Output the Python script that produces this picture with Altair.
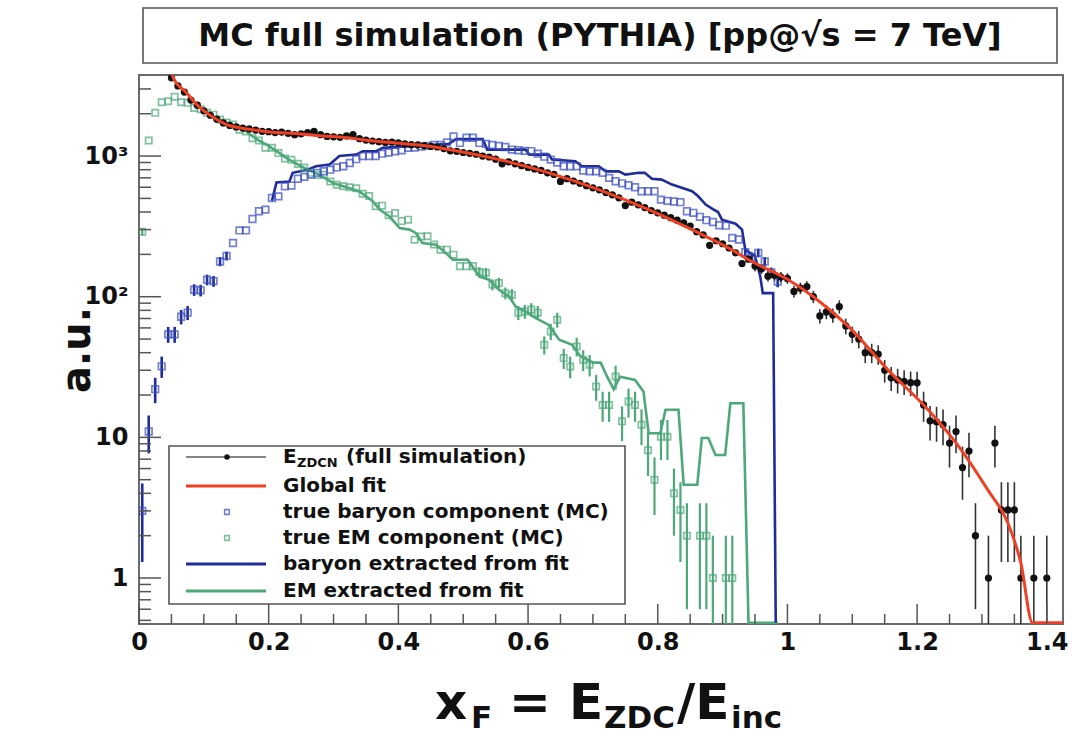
import altair as alt
import numpy as np
import pandas as pd

FONT = "DejaVu Sans"
RED = "#EE4124"
BLUE_LINE = "#1F2D9B"
BLUE_SQ = "#3A4CC0"
GREEN = "#4DA87A"
BLACK = "#111111"
FRAME = "#6a6a6a"

# ---------------- data ----------------
# E_ZDCN full simulation (black points), bin centres 0.05 ... 1.40
black_x = [round(0.05 + 0.01 * i, 2) for i in range(136)]
black_v = [3600, 3150, 2850, 2500, 2300, 2100, 1950, 1830, 1720, 1650,
           1610, 1580, 1560, 1530, 1500, 1490, 1470, 1480, 1450, 1420,
           1440, 1470, 1500, 1420, 1380, 1370, 1360, 1390, 1420, 1330,
           1300, 1280, 1265, 1250, 1255, 1240, 1220, 1205, 1200, 1185,
           1170, 1160, 1130, 1090, 1080, 1060, 1045, 1030, 1000, 985,
           950, 880, 910, 880, 855, 830, 810, 790, 760, 740,
           660, 690, 665, 640, 615, 595, 575, 550, 530, 505,
           445, 470, 450, 430, 410, 395, 380, 365, 350, 335,
           318, 290, 275, 232, 250, 238, 222, 205, 172, 185,
           165, 158, 140, 142, 138, 135, 109, 115, 118, 100,
           73, 78, 74, 85, 62, 54, 50, 40, 40, 39,
           30, 26.5, 25.6, 25, 24.5, 24.4, 17, 13.1, 12.9, 12.3,
           9.1, 11, 6.1, 8, 2.0, None, 1.0, 9.1, 3.05, 3.05,
           3.05, 1.0, None, 1.0, None, 1.0]
black_err = [0] * 90 + [13, 12.6, 11.8, 11.9, 11.7, 11.6, 10.4, 10.7, 10.9, 10,
                        8.5, 8.8, 8.6, 9.2, 7.9, 7.3, 7.1, 6.3, 6.3, 6.2,
                        5.5, 5.1, 5.1, 5, 4.9, 4.9, 4.1, 3.6, 3.6, 3.5,
                        3.0, 3.3, 2.5, 2.8, 1.4, 0, 1.0, 3.0, 1.75, 1.75,
                        1.75, 1.0, 0, 1.0, 0, 1.0]

# true baryon component (MC), bin centres 0.005 ... 0.985
blue_x = [round(0.005 + 0.01 * i, 3) for i in range(99)]
blue_v = [3.0, 11, 22, 32, 54, 54, 72, 77, 112, 111,
          132, 129, 178, 195, 241, 296, 296, 357, 405, 416,
          503, 517, 610, 617, 690, 711, 739, 760, 780, 800,
          830, 846, 893, 950, 1000, 1000, 1000, 1040, 1060, 1080,
          1100, 1145, 1150, 1170, 1180, 1200, 1200, 1250, 1380, 1240,
          1350, 1350, 1240, 1220, 1200, 1180, 1160, 1112, 1100, 1090,
          1085, 1040, 990, 944, 900, 846, 846, 846, 790, 778,
          778, 760, 700, 662, 640, 620, 600, 562, 562, 562,
          490, 480, 475, 470, 405, 395, 370, 350, 340, 322,
          320, 262, 255, 207, 192, 205, 178, 149, 128]
blue_err = [1.7, 3.3, 4.5, 5.5, 7, 7, 8.5, 8.8, 10.6, 10.5, 11.5, 11.4, 13.3, 14] \
    + [0] * 79 + [14.4, 13.9, 14.3, 13.3, 12.2, 11.3]

# true EM component (MC), bin centres 0.005 ... 0.915
green_x = [round(0.005 + 0.01 * i, 3) for i in range(92)]
green_v = [290, 1290, 2030, 2415, 2455, 2640, 2415, 2390, 2200, 2150,
           2030, 1970, 1820, 1730, 1675, 1540, 1495, 1340, 1290, 1145,
           1145, 1050, 960, 940, 880, 830, 760, 735, 735, 660,
           625, 610, 600, 590, 540, 520, 440, 444, 380, 394,
           345, 353, 254, 268, 269, 235, 216, 216, 199, 165,
           165, 165, 150, 148, 122, 125, 106, 103, 77, 78.5,
           81, 77, 45.5, 56.6, 68.6, 36.6, 31.9, 44.3, 35.6, 32.8,
           23, 17, 17, 27.1, 13, 18, 17, 12.3, 8.1, 5.0,
           10.1, 10.1, 4.0, 3.05, 2.0, None, 2.0, 2.0, 1.0, None,
           1.0, 1.0]
green_err = [17] + [0] * 51 + [12.2, 12.2, 11, 11.2, 10.3, 10.1, 8.8, 8.9, 9, 8.8,
                               6.7, 7.5, 8.3, 6, 5.6, 6.7, 6, 5.7, 4.8, 4.1,
                               4.1, 5.2, 3.6, 4.2, 4.1, 3.5, 2.8, 2.2, 3.2, 3.2,
                               2.0, 1.75, 1.4, 0, 1.4, 1.4, 1.0, 0, 1.0, 1.0]

# global fit (red curve)
fit_x = [0.05, 0.053, 0.0733, 0.0887, 0.104, 0.12, 0.135, 0.155, 0.181, 0.207,
         0.243, 0.273, 0.304, 0.335, 0.366, 0.396, 0.448, 0.478, 0.555, 0.632,
         0.709, 0.786, 0.863, 0.914, 0.94, 1.0, 1.04, 1.094, 1.155, 1.217,
         1.268, 1.309, 1.34, 1.36, 1.378, 1.425]
fit_v = [3900, 3600, 2820, 2330, 2030, 1820, 1675, 1590, 1527, 1478,
         1446, 1400, 1370, 1325, 1274, 1240, 1175, 1112, 944, 760,
         578, 416, 284, 216, 183, 133, 100, 61.5, 30.2, 15.7,
         8.15, 4.23, 2.46, 1.28, 0.48, 0.48]

# baryon extracted from fit (blue histogram line)
bl_x = [0.205, 0.212, 0.232, 0.237, 0.26, 0.273, 0.294, 0.309, 0.335, 0.345,
        0.366, 0.376, 0.448, 0.478, 0.489, 0.53, 0.537, 0.596, 0.602, 0.632,
        0.637, 0.673, 0.683, 0.709, 0.72, 0.74, 0.75, 0.771, 0.78, 0.791,
        0.806, 0.822, 0.853, 0.862, 0.874, 0.885, 0.893, 0.899, 0.92, 0.93,
        0.935, 0.95, 0.958, 0.962, 0.978, 0.982]
bl_v = [480, 650, 660, 760, 800, 846, 870, 1000, 1025, 1082,
        1082, 1143, 1200, 1222, 1320, 1320, 1112, 1112, 1024, 1024,
        944, 918, 846, 846, 778, 778, 738, 760, 760, 690,
        680, 627, 562, 520, 452, 420, 400, 353, 330, 300,
        216, 194, 140, 106, 106, 0.48]

# EM extracted from fit (green histogram line)
gl_x = [0.085, 0.10, 0.12, 0.14, 0.165, 0.18, 0.20, 0.23, 0.26, 0.28,
        0.30, 0.32, 0.34, 0.36, 0.371, 0.386, 0.402, 0.417, 0.427, 0.437,
        0.458, 0.473, 0.484, 0.507, 0.525, 0.54, 0.555, 0.571, 0.581, 0.596,
        0.612, 0.632, 0.648, 0.668, 0.68, 0.69, 0.70, 0.712, 0.722, 0.732,
        0.742, 0.765, 0.778, 0.786, 0.804, 0.812, 0.832, 0.84, 0.861, 0.868,
        0.878, 0.889, 0.904, 0.912, 0.932, 0.94, 0.985]
gl_v = [2300, 2150, 1850, 1690, 1500, 1330, 1180, 950, 800, 730,
        640, 600, 560, 480, 416, 373, 308, 300, 284, 241,
        234, 205, 183, 183, 139, 132, 112, 100, 85, 78.6,
        70.5, 63, 49.4, 45.5, 38, 36, 34, 34, 27, 22,
        27, 25.6, 21.2, 10.7, 10.7, 15.7, 15.7, 4.6, 4.6, 9.9,
        9.9, 7.5, 7.5, 17.5, 17.5, 0.48, 0.48]

# axes
x_major = [0, 0.2, 0.4, 0.6, 0.8, 1.0, 1.2, 1.4]
x_minor = [0.05, 0.1, 0.15, 0.25, 0.3, 0.35, 0.45, 0.5, 0.55, 0.65, 0.7, 0.75,
           0.85, 0.9, 0.95, 1.05, 1.1, 1.15, 1.25, 1.3, 1.35]
y_major = [1, 10, 100, 1000]
y_minor = [0.5, 0.6, 0.7, 0.8, 0.9, 2, 3, 4, 5, 6, 7, 8, 9,
           20, 30, 40, 50, 60, 70, 80, 90, 200, 300, 400, 500, 600, 700, 800, 900,
           2000, 3000]

title_text = "MC full simulation (PYTHIA) [pp@\u221as = 7 TeV]"
legend_labels = ["Global fit", "true baryon component (MC)", "true EM component (MC)",
                 "baryon extracted from fit", "EM extracted from fit"]

# ---------------- helpers ----------------
W, H = 924, 549
xscale = alt.Scale(domain=[0, 1.425], nice=False, zero=False)
yscale = alt.Scale(type="log", domain=[0.471, 3770], nice=False)
xaxis = alt.Axis(values=x_major, format="~g", title=None, domain=False, ticks=False, grid=False,
                 labelFont=FONT, labelFontWeight="bold", labelFontSize=24, labelColor=BLACK,
                 labelPadding=6, labelOverlap=False, labelFlush=False, labelBound=False)
yaxis = alt.Axis(values=y_major, title=None, domain=False, ticks=False, grid=False,
                 labelExpr="datum.value < 5 ? '1' : datum.value < 50 ? '10' : datum.value < 500 ? '10\u00b2' : '10\u00b3'",
                 labelFont=FONT, labelFontWeight="bold", labelFontSize=24, labelColor=BLACK,
                 labelPadding=11, labelOverlap=False, labelFlush=False, labelBound=False)


def X(f="x"):
    return alt.X(f + ":Q", scale=xscale, axis=xaxis)


def Y(f="v"):
    return alt.Y(f + ":Q", scale=yscale, axis=yaxis)


def table(xs, vs, errs=None):
    d = pd.DataFrame({"x": xs, "v": vs})
    if errs is not None:
        d["err"] = errs
    d = d.dropna(subset=["v"]).copy()
    d["v"] = d["v"].astype(float)
    if errs is not None:
        d["lo"] = np.maximum(d["v"] - d["err"], 0.3)
        d["hi"] = d["v"] + d["err"]
    return d


def poly(xs, vs):
    return pd.DataFrame({"x": xs, "v": vs, "i": list(range(len(xs)))})


black = table(black_x, black_v, black_err)
blue = table(blue_x, blue_v, blue_err)
green = table(green_x, green_v, green_err)

one = pd.DataFrame({"k": [0]})


def txt(s, x, y, size, align="left", baseline="middle", angle=None):
    kw = dict(font=FONT, fontWeight="bold", fontSize=size, align=align, baseline=baseline, color=BLACK)
    if angle is not None:
        kw["angle"] = angle
    return alt.Chart(one).mark_text(**kw).encode(x=alt.value(x), y=alt.value(y), text=alt.value(s))


def hline(x1, x2, y, color, w):
    return alt.Chart(one).mark_rule(color=color, strokeWidth=w).encode(
        x=alt.value(x1), x2=alt.value(x2), y=alt.value(y))


def box(x1, x2, y1, y2):
    return alt.Chart(one).mark_rect(fill="white", stroke="#555555", strokeWidth=1.6).encode(
        x=alt.value(x1), x2=alt.value(x2), y=alt.value(y1), y2=alt.value(y2))


layers = []
# histogram-style lines
layers.append(alt.Chart(poly(gl_x, gl_v)).mark_line(color=GREEN, strokeWidth=2.6, clip=True)
              .encode(x=X(), y=Y(), order="i:Q"))
layers.append(alt.Chart(poly(bl_x, bl_v)).mark_line(color=BLUE_LINE, strokeWidth=2.6, clip=True)
              .encode(x=X(), y=Y(), order="i:Q"))
# green MC
layers.append(alt.Chart(green[green.err > 0]).mark_rule(color=GREEN, strokeWidth=2.2, clip=True)
              .encode(x=X(), y=Y("lo"), y2="hi:Q"))
layers.append(alt.Chart(green).mark_point(shape="square", filled=False, size=40, strokeWidth=1.7,
                                          color=GREEN, clip=True).encode(x=X(), y=Y()))
# blue MC
layers.append(alt.Chart(blue[blue.err > 0]).mark_rule(color=BLUE_LINE, strokeWidth=2.6, clip=True)
              .encode(x=X(), y=Y("lo"), y2="hi:Q"))
layers.append(alt.Chart(blue).mark_point(shape="square", filled=False, size=44, strokeWidth=1.7,
                                         color=BLUE_SQ, clip=True).encode(x=X(), y=Y()))
# black full simulation
layers.append(alt.Chart(black[black.err > 0]).mark_rule(color="#333333", strokeWidth=1.6, clip=True)
              .encode(x=X(), y=Y("lo"), y2="hi:Q"))
layers.append(alt.Chart(black).mark_point(shape="circle", filled=True, size=52, opacity=1,
                                          color=BLACK, clip=True).encode(x=X(), y=Y()))
# global fit
layers.append(alt.Chart(poly(fit_x, fit_v)).mark_line(color=RED, strokeWidth=3, clip=True,
                                                      interpolate="monotone")
              .encode(x=X(), y=Y(), order="i:Q"))

# inward ticks
tick_col = "#555555"
layers.append(alt.Chart(pd.DataFrame({"x": x_major})).mark_rule(color=tick_col, strokeWidth=1.5)
              .encode(x=X(), y=alt.value(H), y2=alt.value(H - 20)))
layers.append(alt.Chart(pd.DataFrame({"x": x_minor})).mark_rule(color=tick_col, strokeWidth=1.5)
              .encode(x=X(), y=alt.value(H), y2=alt.value(H - 10)))
layers.append(alt.Chart(pd.DataFrame({"v": y_major})).mark_rule(color=tick_col, strokeWidth=1.5)
              .encode(y=Y(), x=alt.value(0), x2=alt.value(22)))
layers.append(alt.Chart(pd.DataFrame({"v": y_minor})).mark_rule(color=tick_col, strokeWidth=1.5)
              .encode(y=Y(), x=alt.value(0), x2=alt.value(12)))

# title box
layers.append(box(4, 918, -67, -12))
layers.append(txt(title_text, 461, -39, 32, align="center"))

# legend
layers.append(box(30, 486, 371, 529))
rows = [382, 411, 437, 463, 489, 516]
layers.append(hline(47, 127, rows[0], BLACK, 1.2))
layers.append(alt.Chart(one).mark_point(shape="circle", filled=True, size=30, color=BLACK, opacity=1)
              .encode(x=alt.value(88), y=alt.value(rows[0])))
layers.append(hline(47, 127, rows[1], RED, 3))
layers.append(alt.Chart(one).mark_point(shape="square", filled=False, size=22, strokeWidth=1.6, color=BLUE_SQ)
              .encode(x=alt.value(88), y=alt.value(rows[2])))
layers.append(alt.Chart(one).mark_point(shape="square", filled=False, size=22, strokeWidth=1.6, color=GREEN)
              .encode(x=alt.value(88), y=alt.value(rows[3])))
layers.append(hline(47, 127, rows[4], BLUE_LINE, 3))
layers.append(hline(47, 127, rows[5], GREEN, 3))
layers.append(txt("E", 144, rows[0], 20))
layers.append(txt("ZDCN", 158, rows[0] + 6, 13))
layers.append(txt("(full simulation)", 207, rows[0], 20))
for lab, yy in zip(legend_labels, rows[1:]):
    layers.append(txt(lab, 144, yy, 20))

# axis titles
layers.append(txt("a.u.", -61, 275, 40, align="center", angle=270))
base = 644
layers.append(txt("x", 296, base, 50, baseline="alphabetic"))
layers.append(txt("F", 332, base + 9, 31, baseline="alphabetic"))
layers.append(txt("=", 370, base, 50, baseline="alphabetic"))
layers.append(txt("E", 430, base, 50, baseline="alphabetic"))
layers.append(txt("ZDC", 465, base + 9, 31, baseline="alphabetic"))
layers.append(txt("/E", 538, base, 50, baseline="alphabetic"))
layers.append(txt("inc", 592, base + 9, 31, baseline="alphabetic"))

chart = alt.layer(*layers).properties(
    width=W, height=H,
    padding={"left": 139, "top": 75, "right": 9, "bottom": 114},
    autosize=alt.AutoSizeParams(type="none"),
    background="white",
).configure_view(stroke=FRAME, strokeWidth=2)

chart.save("out.html", embed_options={"renderer": "svg", "actions": False})
